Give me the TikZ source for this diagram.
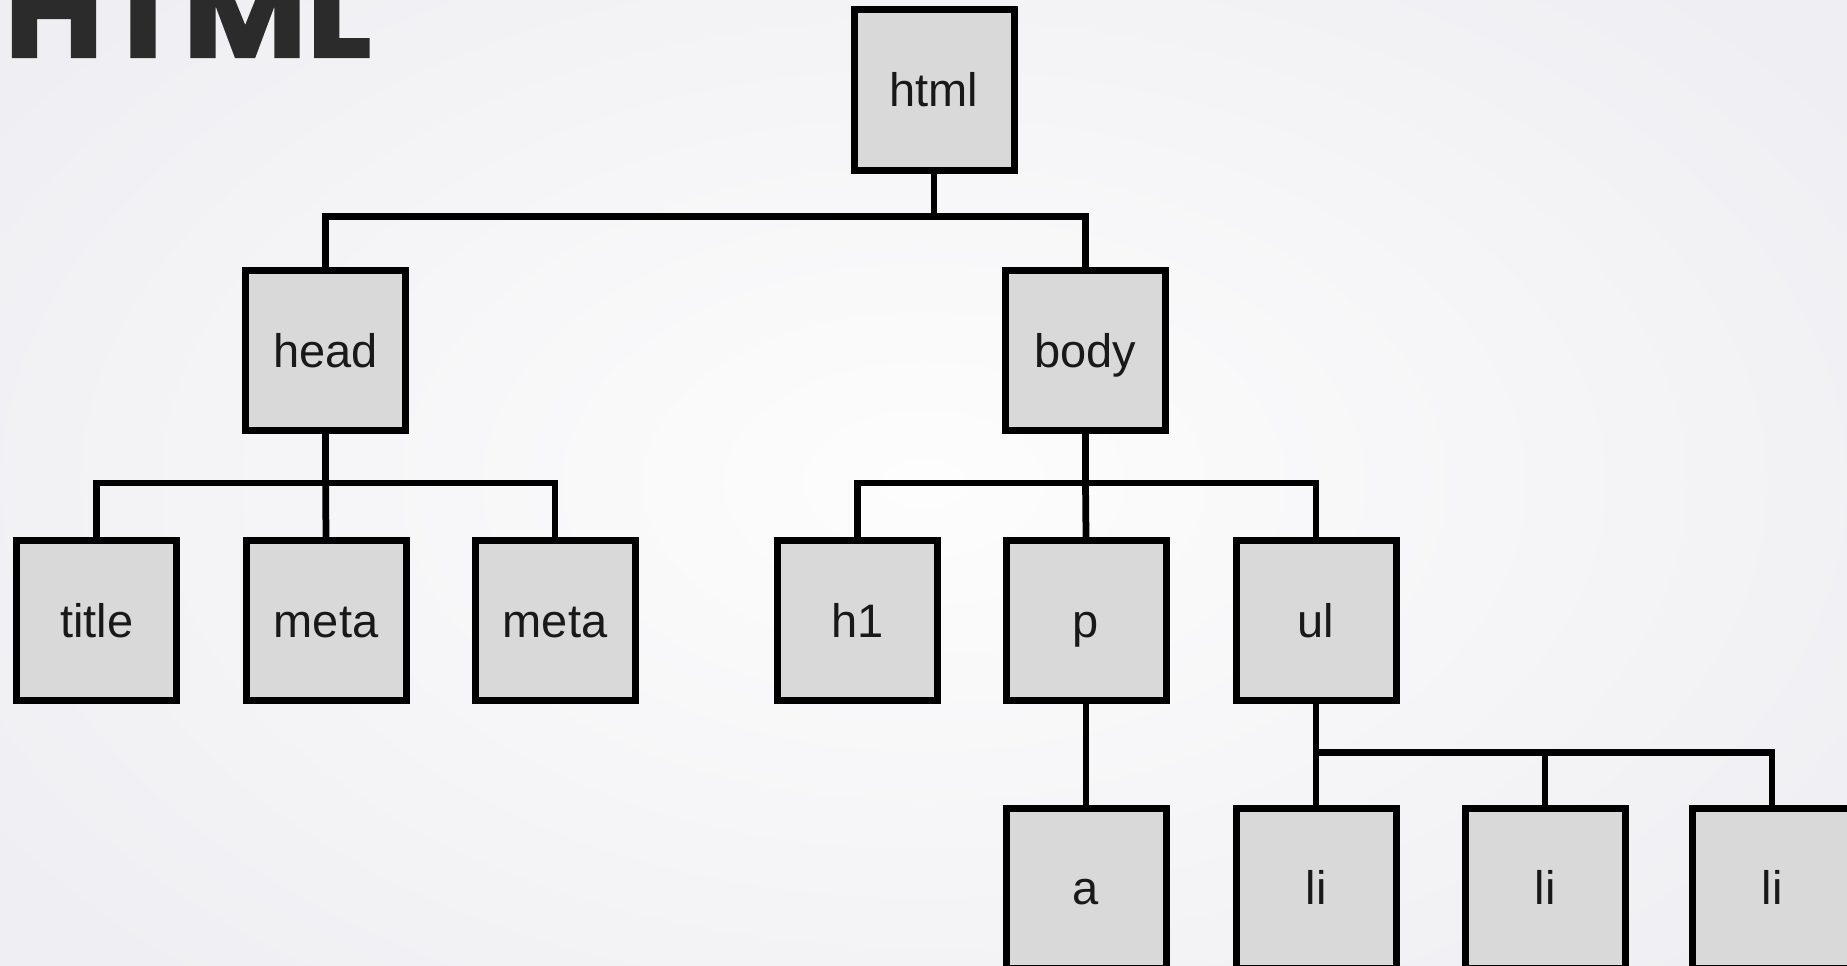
\documentclass[tikz,border=0pt]{standalone}
\usepackage{fontspec}
\setmainfont{Liberation Sans}
\newfontfamily\headfont{Poppins}[BoldFeatures={FakeBold=1.6}]
\definecolor{bgedge}{RGB}{239,239,243}
\definecolor{bgmid}{RGB}{253,253,253}
\definecolor{boxfill}{RGB}{217,217,217}
\definecolor{titleink}{RGB}{43,43,43}
\tikzset{
  tag/.style={draw=black, line width=2.8pt, line join=miter, fill=boxfill,
    minimum size=64pt, inner sep=0pt, text=black!90,
    font=\fontsize{18.8pt}{22pt}\selectfont, text height=13.5pt, text depth=0pt},
  link/.style={draw=black, line width=2.7pt, line join=miter},
}
\begin{document}
\begin{tikzpicture}[x=0.4pt, y=-0.4pt]
  % page and soft background
  \useasboundingbox (0,0) rectangle (1847,966);
  \shade[inner color=bgmid, outer color=bgedge] (-200,-200) rectangle (2047,1166);

  % heading, partly above the page edge
  \node[anchor=base west, inner sep=0pt, text=titleink,
        font=\headfont\bfseries\fontsize{54pt}{54pt}\selectfont] (heading) at (4,57) {HTML};

  % bar levels of the tree
  \coordinate (lv1) at (0,216.7);
  \coordinate (lv2) at (0,483);
  \coordinate (lv3) at (0,752.7);

  % element boxes
  \node[tag] (html) at (934,90) {html};
  \node[tag] (head) at (325.6,350.5) {head};
  \node[tag] (body) at (1085.5,350.5) {body};
  \node[tag] (title) at (96.6,620.3) {title};
  \node[tag] (meta1) at (326,620.3) {meta};
  \node[tag] (meta2) at (555,620.3) {meta};
  \node[tag] (h1) at (857.6,620.3) {h1};
  \node[tag] (p) at (1086,620.3) {p};
  \node[tag] (ul) at (1316,620.3) {ul};
  \node[tag] (a) at (1086,888) {a};
  \node[tag] (li1) at (1316,888) {li};
  \node[tag] (li2) at (1545,888) {li};
  \node[tag] (li3) at (1772,888) {li};

  % connectors
  \draw[link] (html.south) -- (html.south |- lv1) -| (head.north);
  \draw[link] (html.south |- lv1) -| (body.north);

  \draw[link] (head.south) -- (head.south |- lv2) -| (title.north);
  \draw[link] (head.south |- lv2) -| (meta2.north);
  \draw[link] (head.south |- lv2) -- (meta1.north);

  \draw[link] (body.south) -- (body.south |- lv2) -| (h1.north);
  \draw[link] (body.south |- lv2) -| (ul.north);
  \draw[link] (body.south |- lv2) -- (p.north);

  \draw[link] (p.south) -- (a.north);

  \draw[link] (ul.south) -- (li1.north);
  \draw[link] (ul.south |- lv3) -| (li3.north);
  \draw[link] (li2.north) -- (li2.north |- lv3);
\end{tikzpicture}
\end{document}
